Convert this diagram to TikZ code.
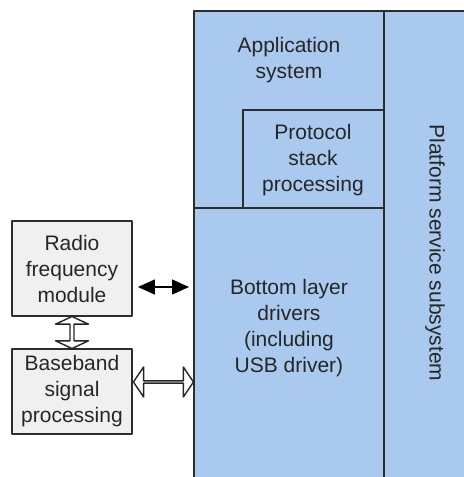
\documentclass[tikz,border=0pt]{standalone}
\usepackage{fontspec}
\setmainfont{Liberation Sans}
\usetikzlibrary{arrows.meta}
\usetikzlibrary{positioning}
\usetikzlibrary{calc}
\usetikzlibrary{shapes.arrows}
\definecolor{panelblue}{RGB}{169,202,238}
\definecolor{boxgray}{RGB}{240,240,240}
\definecolor{edgegray}{RGB}{45,45,45}

\begin{document}
\begin{tikzpicture}[line cap=round,line join=round,>={Triangle[length=8.5pt,width=7.5pt]},x=0.5pt,y=-0.5pt,
  panel/.style={fill=panelblue,draw=edgegray,line width=0.9pt},
  txt/.style={align=center,text=black!85,font=\fontsize{10.5}{13}\selectfont},
  gbox/.style={txt,draw=edgegray,fill=boxgray,line width=0.9pt,minimum width=60pt,inner sep=0pt},
  hollow/.style={double arrow,draw=black!85,fill=white,line width=0.7pt,inner sep=0pt}]
\useasboundingbox (0,0) rectangle (464,477);
\clip (0,0) rectangle (464,477);
% layered software panel
\draw[panel] (384,11) rectangle (472,485);
\draw[panel] (194,11) rectangle (384,208);
\draw[panel] (243,110) rectangle (384,208);
\draw[panel] (194,208) rectangle (384,485);
\coordinate (edge) at (194,0);
\node[txt] (app) at (289,60) {Application\\system};
\node[txt] (proto) at (313,160) {Protocol\\stack\\processing};
\node[txt] (drv) at (289,328) {Bottom layer\\drivers\\(including\\USB driver)};
\node[txt,rotate=-90] (plat) at (435,253) {Platform service subsystem};
% hardware side
\node[gbox,minimum height=47.5pt] (radio) at (72,268.5) {Radio\\frequency\\module};
\node[gbox,minimum height=42.5pt] (bband) at (72,391.5) {Baseband\\signal\\processing};
% connectors
\draw[<->,line width=0.6pt,shorten <=2.5pt,shorten >=2.5pt] ([yshift=-9.25pt]radio.east) -- ([yshift=-9.25pt]radio.east -| edge);
\node[hollow,minimum height=30pt,minimum width=15pt,double arrow head extend=4.25pt,double arrow tip angle=112]
  (bbarrow) at ($([yshift=4.75pt]bband.east)!0.5!([yshift=4.75pt]bband.east -| edge)$) {};
\node[hollow,rotate=90,minimum height=16pt,minimum width=16.5pt,double arrow head extend=2.5pt,double arrow tip angle=130]
  (rfarrow) at ($(radio.south)!0.5!(bband.north)$) {};
\end{tikzpicture}
\end{document}
